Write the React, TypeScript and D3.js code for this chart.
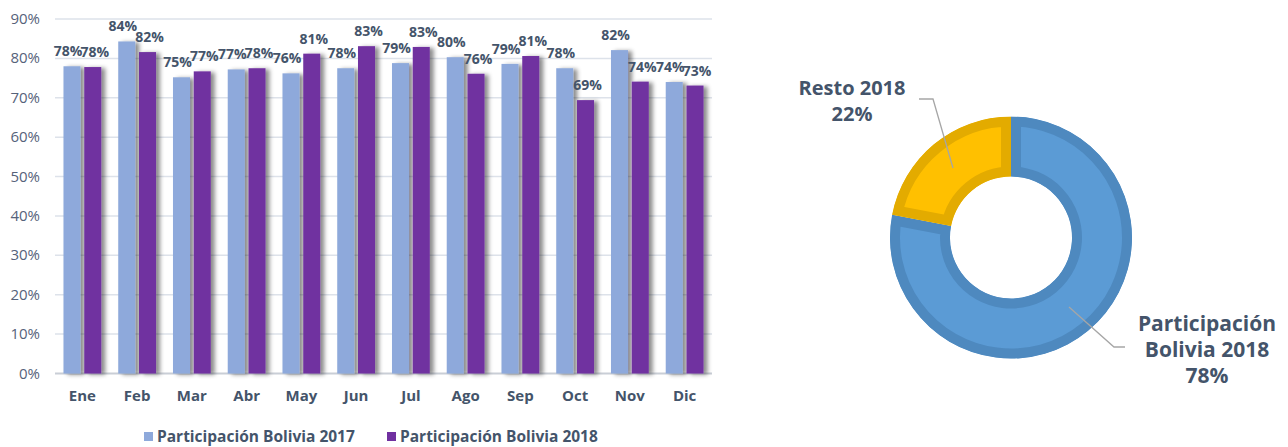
import React from "react";
import * as d3 from "d3";

const months = ["Ene", "Feb", "Mar", "Abr", "May", "Jun", "Jul", "Ago", "Sep", "Oct", "Nov", "Dic"];
const series = ["Participación Bolivia 2017", "Participación Bolivia 2018"];
const values2017 = [78.0, 84.3, 75.2, 77.2, 76.2, 77.5, 78.8, 80.3, 78.6, 77.5, 82.1, 74.0];
const values2018 = [77.8, 81.6, 76.7, 77.5, 81.2, 83.1, 82.9, 76.1, 80.6, 69.4, 74.1, 73.1];
const yTicks = [0, 10, 20, 30, 40, 50, 60, 70, 80, 90];
const donutLabels = ["Participación Bolivia 2018", "Resto 2018"];
const donutValues = [78, 22];

const TEXT = "#44546A";
const FONT = "'Open Sans', 'DejaVu Sans', sans-serif";
const barColors = ["#8EA9DB", "#7030A0"];
const donutFill = ["#5B9BD5", "#FFC000"];
const donutStroke = ["#4E89BF", "#E3AB00"];

export default function App() {
  const W = 1288, H = 447;
  const x0 = d3.scaleBand<string>().domain(months).range([55, 712]).paddingInner(0.31).paddingOuter(0.155);
  const x1 = d3.scaleBand<string>().domain(["0", "1"]).range([0, x0.bandwidth()]).paddingInner(0.18);
  const y = d3.scaleLinear().domain([0, 90]).range([373.5, 19]);
  const data = [values2017, values2018];

  const cx = 1011, cy = 237.5, rOut = 121, rIn = 61;
  const pie = d3.pie<number>().sort(null).value((d) => d);
  const arcs = pie(donutValues);
  const arcGen = d3.arc<d3.PieArcDatum<number>>().innerRadius(rIn).outerRadius(rOut);

  return (
    <svg width={W} height={H} style={{ position: "absolute", left: 0, top: 0, background: "#fff" }} fontFamily={FONT}>
      <defs>
        <filter id="barShadow" x="-20%" y="-10%" width="160%" height="120%">
          <feDropShadow dx="4" dy="1" stdDeviation="2.2" floodColor="#000" floodOpacity="0.45" />
        </filter>
        {arcs.map((a, i) => (
          <clipPath id={`clip${i}`} key={i}>
            <path d={arcGen(a) || ""} />
          </clipPath>
        ))}
      </defs>

      {/* gridlines */}
      {yTicks.map((t) => (
        <line key={t} x1={55} x2={712} y1={y(t)} y2={y(t)} stroke={t === 0 ? "#C9CED6" : "#DDE2EA"} strokeWidth={t === 0 ? 2 : 1.5} />
      ))}
      {yTicks.map((t) => (
        <text key={"yt" + t} x={40} y={y(t) + 5} textAnchor="end" fontSize={15} fill="#56627A">
          {t}%
        </text>
      ))}

      {/* bars */}
      <g filter="url(#barShadow)">
        {months.map((m, i) =>
          data.map((vals, s) => (
            <rect
              key={m + s}
              x={(x0(m) || 0) + (x1(String(s)) || 0)}
              y={y(vals[i])}
              width={x1.bandwidth()}
              height={y(0) - y(vals[i])}
              fill={barColors[s]}
            />
          ))
        )}
      </g>

      {/* value labels */}
      {months.map((m, i) =>
        data.map((vals, s) => (
          <text
            key={"l" + m + s}
            x={(x0(m) || 0) + (x1(String(s)) || 0) + x1.bandwidth() / 2 + (s === 0 ? -4 : 2)}
            y={y(vals[i]) - 10}
            textAnchor="middle"
            fontSize={14}
            fontWeight="bold"
            fill={TEXT}
          >
            {Math.round(vals[i])}%
          </text>
        ))
      )}

      {/* x labels */}
      {months.map((m) => (
        <text key={"x" + m} x={(x0(m) || 0) + x0.bandwidth() / 2} y={401} textAnchor="middle" fontSize={15} fontWeight="bold" fill={TEXT}>
          {m}
        </text>
      ))}

      {/* legend */}
      {series.map((s, i) => {
        const lx = i === 0 ? 144 : 387;
        return (
          <g key={s}>
            <rect x={lx} y={432} width={9} height={9} fill={barColors[i]} />
            <text x={lx + 13} y={442} fontSize={15.5} fontWeight="bold" fill={TEXT}>
              {s}
            </text>
          </g>
        );
      })}

      {/* donut */}
      <g transform={`translate(${cx},${cy})`}>
        {arcs.map((a, i) => (
          <path
            key={"arc" + i}
            d={arcGen(a) || ""}
            fill={donutFill[i]}
            stroke={donutStroke[i]}
            strokeWidth={20}
            clipPath={`url(#clip${i})`}
          />
        ))}
      </g>

      {/* leader lines */}
      <polyline points="919,99 933,99 953,168" fill="none" stroke="#A6A6A6" strokeWidth={1.3} />
      <polyline points="1069,307 1114,347 1125,347" fill="none" stroke="#A6A6A6" strokeWidth={1.3} />

      {/* donut labels */}
      <text textAnchor="middle" fontSize={20} fontWeight="bold" fill={TEXT}>
        <tspan x={852} y={95}>{donutLabels[1]}</tspan>
        <tspan x={852} y={121}>{donutValues[1]}%</tspan>
      </text>
      <text textAnchor="middle" fontSize={21} fontWeight="bold" fill={TEXT}>
        <tspan x={1207} y={331}>Participación</tspan>
        <tspan x={1207} y={357}>Bolivia 2018</tspan>
        <tspan x={1207} y={383}>{donutValues[0]}%</tspan>
      </text>
    </svg>
  );
}
